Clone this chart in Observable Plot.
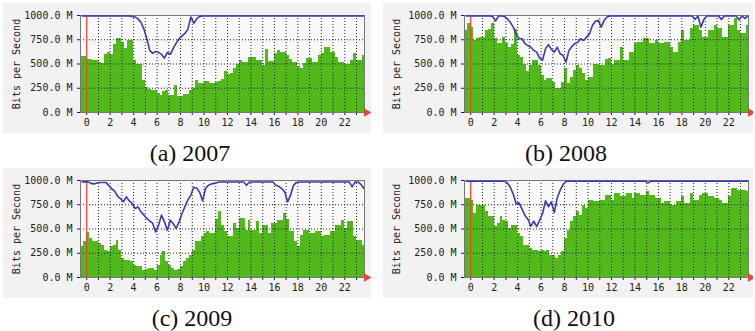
<!DOCTYPE html>
<html><head><meta charset="utf-8">
<script src="https://cdn.jsdelivr.net/npm/d3@7"></script>
<script src="https://cdn.jsdelivr.net/npm/@observablehq/plot@0.6"></script>
<style>
body{margin:0;background:#fff;width:755px;height:331px;position:relative;overflow:hidden}
.panel{position:absolute}
.panel svg text{font-family:"DejaVu Sans Mono",monospace;font-size:10px}
.cap{position:absolute;width:200px;text-align:center;font-family:"Liberation Serif","Times New Roman",serif;font-size:24px;line-height:24px;color:#111}
</style></head><body>
<div id="pa" class="panel" style="left:3px;top:3px"></div>
<div id="pb" class="panel" style="left:383px;top:3px"></div>
<div id="pc" class="panel" style="left:3px;top:168px"></div>
<div id="pd" class="panel" style="left:383px;top:168px"></div>
<div id="ca" class="cap" style="left:90px;top:141px"></div>
<div id="cb" class="cap" style="left:466px;top:141px"></div>
<div id="cc" class="cap" style="left:92px;top:306px"></div>
<div id="cd" class="cap" style="left:474px;top:306px"></div>
<script>
const captions = ["(a) 2007", "(b) 2008", "(c) 2009", "(d) 2010"];
const yTicks = [0, 250, 500, 750, 1000];
const hourTicks = [0,1,2,3,4,5,6,7,8,9,10,11,12,13,14,15,16,17,18,19,20,21,22,23];
const yTitle = "Bits per Second";
// samples every quarter hour starting at -0.5 h
const sampleStart = -0.5, sampleStep = 0.25;

const green2007 = [580,580,
 550,545,540,540, 520,505,600,620, 595,700,760,760, 725,660,745,740,
 536,500,490,330, 260,235,227,227, 200,180,220,225, 180,175,280,165,
 165,185,185,227, 250,330,300,295, 323,323,295,295, 313,320,340,420,
 390,400,450,490, 535,520,520,570, 570,570,540,536, 485,645,530,525,
 605,640,620,620, 590,550,520,520, 470,450,510,553, 553,520,520,590,
 605,667,667,622, 622,570,520,520, 500,500,536,605, 536,536,588];
const blue2007 = [995,995,
 995,995,995,995, 995,995,995,995, 995,995,995,995, 995,995,995,990,
 985,965,930,860, 760,640,610,630, 620,600,560,620, 600,660,715,760,
 790,815,860,985, 920,965,990,995, 995,995,995,995, 995,995,995,995,
 995,995,995,995, 995,995,995,995, 995,995,995,995, 995,995,995,995,
 995,995,995,995, 995,995,995,995, 995,995,995,995, 995,995,995,995,
 995,995,995,995, 995,995,995,995, 995,995,995,995, 995,995,995];

const green2008 = [845,915,
 880,742,760,770, 777,845,860,915, 760,710,710,777, 708,673,700,860,
 588,570,500,420, 485,536,536,485, 380,330,347,347, 313,244,244,313,
 450,295,364,433, 485,450,400,330, 364,364,500,500, 485,485,545,553,
 500,536,536,673, 536,536,622,622, 708,725,725,760, 760,708,708,742,
 708,708,725,725, 673,622,622,725, 845,742,742,862, 897,897,845,777,
 777,845,845,897, 862,862,777,777, 897,897,965,845, 811,811,897];
const blue2008 = [995,995,
 995,995,995,995, 995,995,995,990, 945,995,995,990, 965,930,880,811,
 760,760,710,690, 673,640,622,560, 540,656,700,650, 622,673,605,588,
 520,640,680,710, 725,760,742,777, 811,897,940,950, 880,950,985,995,
 995,995,995,995, 995,995,995,995, 995,995,995,995, 995,995,995,995,
 995,995,995,995, 995,995,995,995, 995,995,995,995, 960,995,880,960,
 995,995,995,995, 995,960,995,995, 995,995,995,955, 995,970,995];

const green2009 = [316,368,
 464,400,368,368, 350,330,280,265, 316,333,385,282, 196,179,179,161,
 127,110,110,76, 85,93,90,76, 127,230,271,161, 120,93,76,82,
 110,161,200,230, 282,368,368,419, 450,470,454,454, 600,677,540,470,
 419,419,556,505, 608,608,488,591, 488,488,574,454, 540,540,454,556,
 556,591,591,660, 600,470,470,368, 316,436,488,488, 454,454,470,470,
 419,436,436,470, 470,540,540,591, 505,574,574,419, 385,385,333];
const blue2009 = [986,986,
 986,970,965,975, 980,980,980,950, 917,890,840,814, 780,832,790,763,
 711,728,677,643, 610,580,560,470, 540,643,574,488, 591,556,505,574,
 660,730,800,850, 930,920,880,790, 917,952,965,970, 980,985,985,985,
 985,985,985,985, 985,985,950,985, 985,985,985,985, 985,985,985,985,
 950,940,917,883, 780,849,950,980, 985,985,985,985, 985,985,985,985,
 985,985,985,985, 985,985,985,985, 985,985,935,985, 985,960,917];

const green2010 = [814,814,
 797,660,746,746, 746,677,625,625, 522,557,625,591, 574,505,540,540,
 454,419,333,333, 299,282,282,265, 282,265,282,230, 230,196,230,265,
 402,488,574,625, 677,643,746,711, 797,797,780,780, 797,797,849,849,
 797,866,866,832, 832,866,866,814, 866,866,849,849, 883,849,849,814,
 814,763,780,780, 746,746,780,780, 832,763,763,866, 797,797,849,866,
 866,832,832,814, 814,797,763,763, 832,917,917,900, 900,900,890];
const blue2010 = [993,993,
 993,993,993,993, 993,993,993,993, 993,993,993,993, 975,930,860,760,
 770,705,640,600, 530,580,525,590, 660,790,730,780, 670,820,900,960,
 990,993,993,993, 993,993,993,993, 993,993,993,993, 993,993,993,993,
 993,993,993,993, 993,993,993,993, 993,993,993,993, 975,993,993,993,
 993,993,993,993, 993,993,993,993, 993,993,993,993, 993,993,993,993,
 993,993,993,993, 993,993,993,993, 993,993,993,993, 993,993,993];

const GREEN = "#52b91a", BLUE = "#3a3ab2", RED = "#e8453c", GRID = "#222", BORDER = "#777";

function panel(green, blue, width, mLeft, mRight) {
  const rows = green.map((g, i) => ({t: sampleStart + i * sampleStep, g, b: blue[i]}));
  return Plot.plot({
    width, height: 130,
    marginLeft: mLeft, marginRight: mRight, marginTop: 12, marginBottom: 21,
    style: {background: "#f2f2f2", fontFamily: "DejaVu Sans Mono", fontSize: "10px", color: "#222"},
    x: {domain: [-0.53, 23.68], ticks: hourTicks, tickSize: 3, tickPadding: 3,
        tickFormat: d => (d % 2 ? "" : String(d)), label: null},
    y: {domain: [0, 1000], ticks: yTicks, tickSize: 3, tickPadding: 5,
        tickFormat: d => d.toFixed(1) + " M",
        label: yTitle, labelAnchor: "center", labelOffset: mLeft - 9, labelArrow: "none"},
    marks: [
      Plot.frame({fill: "#f9f9f9"}),
      Plot.rectY(rows, {x1: "t", x2: d => d.t + sampleStep, y: "g", fill: GREEN, clip: true, shapeRendering: "crispEdges"}),
      Plot.ruleY(yTicks.slice(1, -1), {stroke: GRID, strokeDasharray: "1,2"}),
      Plot.ruleX(hourTicks.slice(1), {stroke: GRID, strokeDasharray: "1,2"}),
      Plot.ruleX([0], {stroke: RED, strokeWidth: 1.3}),
      Plot.frame({stroke: BORDER}),
      Plot.lineY(rows, {x: d => d.t + sampleStep / 2, y: "b", stroke: BLUE, strokeWidth: 1.6, clip: true}),
      Plot.dot([0], {frameAnchor: "bottom-right", symbol: "triangle", rotate: 90, r: 3.2, fill: RED, stroke: null, dx: 2})
    ]
  });
}

document.getElementById("pa").append(panel(green2007, blue2007, 368, 77, 7));
document.getElementById("pb").append(panel(green2008, blue2008, 370, 81, 5));
document.getElementById("pc").append(panel(green2009, blue2009, 368, 77, 7));
document.getElementById("pd").append(panel(green2010, blue2010, 370, 81, 5));
["ca", "cb", "cc", "cd"].forEach((id, i) => document.getElementById(id).textContent = captions[i]);
</script>
</body></html>
